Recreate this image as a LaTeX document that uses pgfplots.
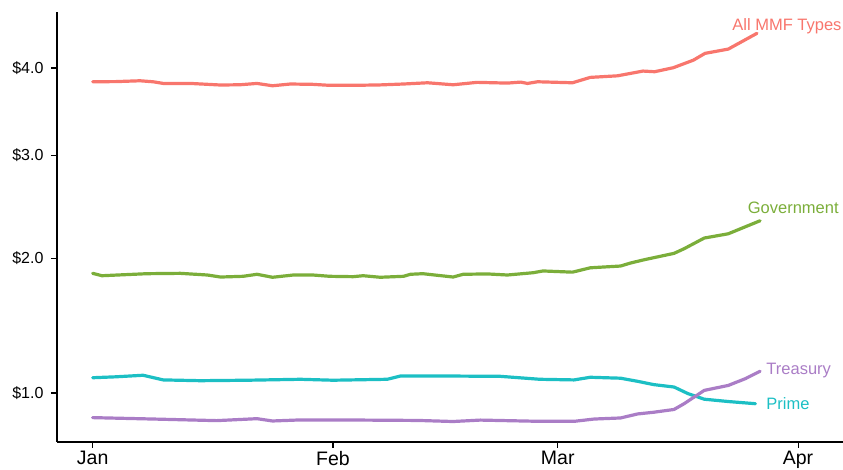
\documentclass[border=0pt]{standalone}
\usepackage{pgfplots}
\pgfplotsset{compat=1.18}
\usepackage{fontspec}
\setmainfont{Liberation Sans}
\definecolor{cAll}{HTML}{F8766D}
\definecolor{cGov}{HTML}{7BAE3A}
\definecolor{cPrime}{HTML}{1CBFC4}
\definecolor{cTreas}{HTML}{AA7DC6}
\begin{document}
\begin{tikzpicture}[x=1bp,y=1bp]
\useasboundingbox (-57,-28) rectangle (786,442);
\begin{axis}[
  at={(0,0)}, anchor=south west,
  scale only axis, width=786bp, height=430bp,
  xmin=-4.6, xmax=96.8,
  ymin=0.721, ymax=4.72,
  y coord trafo/.code={\pgfmathparse{sqrt(#1)}},
  y coord inv trafo/.code={\pgfmathparse{(#1)^2}},
  axis lines=left,
  axis line style={-, line width=1.1bp, black},
  tick align=outside,
  major tick length=6bp,
  tick style={line width=1.1bp, black},
  xtick={0,31,60,91},
  xticklabels={Jan,Feb,Mar,Apr},
  ytick={1,2,3,4},
  yticklabels={\$1.0,\$2.0,\$3.0,\$4.0},
  xticklabel style={font=\fontsize{19.5bp}{22bp}\selectfont, text=black},
  yticklabel style={font=\fontsize{16bp}{18bp}\selectfont, text=black, xshift=-4bp},
  clip=false,
  every axis plot/.append style={line width=3.2bp, line join=round, line cap=round, no markers},
]
% All MMF Types
\addplot[cAll] coordinates {
(0,3.833) (3,3.835) (6.1,3.845) (7.8,3.833) (9.1,3.813) (12.6,3.813) (16.5,3.794)
(19,3.797) (21.2,3.813) (23.2,3.785) (25.5,3.806) (28.4,3.802) (30.6,3.790)
(33.6,3.790) (37,3.795) (40.1,3.806) (43.2,3.821) (46.5,3.797) (49.6,3.826)
(53.5,3.817) (55.2,3.829) (56.1,3.813) (57.4,3.833) (61.9,3.821) (64.2,3.886)
(67.7,3.905) (71,3.963) (72.5,3.955) (74.9,4.004) (77.5,4.098) (79,4.183) (82,4.237) (85.7,4.439)
};
% Government
\addplot[cGov] coordinates {
(0,1.872) (1.2,1.852) (7,1.869) (11.3,1.872) (14.8,1.858) (16.5,1.841) (19.4,1.847)
(21.2,1.864) (23.2,1.839) (25.9,1.858) (28.4,1.858) (30.6,1.847) (33.6,1.844)
(34.9,1.852) (37.1,1.839) (40.1,1.847) (41,1.864) (42.6,1.869) (46.5,1.841)
(47.8,1.864) (50.9,1.867) (53.5,1.858) (56.8,1.877) (58.1,1.892) (61.9,1.882)
(64.2,1.919) (68.1,1.934) (69.4,1.960) (71.2,1.989) (75,2.044) (76.3,2.085)
(78.9,2.181) (82,2.220) (86.1,2.341)
};
% Prime
\addplot[cPrime] coordinates {
(0,1.096) (3,1.102) (6.5,1.112) (9.1,1.082) (13.9,1.077) (20,1.080) (26.8,1.086)
(31,1.080) (38,1.086) (39.7,1.107) (46,1.107) (52.6,1.105) (57.7,1.086)
(62.1,1.082) (64.2,1.099) (68.1,1.093) (70.3,1.073) (72.4,1.052) (75,1.037)
(76.8,0.996) (78.9,0.962) (82,0.948) (85.5,0.935)
};
% Treasury
\addplot[cTreas] coordinates {
(0,0.854) (7.8,0.846) (16,0.837) (21.2,0.848) (23.2,0.835) (26.8,0.841)
(35,0.840) (42,0.838) (46.5,0.832) (50,0.840) (57.7,0.833) (62.1,0.833)
(64.7,0.846) (68.1,0.852) (70.3,0.875) (72.4,0.885) (75,0.901) (76.3,0.935)
(78.9,1.016) (82,1.047) (84.2,1.090) (86.1,1.138)
};
\node[anchor=west, text=cAll, font=\fontsize{16.5bp}{19bp}\selectfont, inner sep=0pt] at (axis cs:82.5,4.533) {All MMF Types};
\node[anchor=west, text=cGov, font=\fontsize{16.5bp}{19bp}\selectfont, inner sep=0pt] at (axis cs:84.5,2.462) {Government};
\node[anchor=west, text=cTreas, font=\fontsize{16.5bp}{19bp}\selectfont, inner sep=0pt] at (axis cs:86.9,1.140) {Treasury};
\node[anchor=west, text=cPrime, font=\fontsize{16.5bp}{19bp}\selectfont, inner sep=0pt] at (axis cs:86.9,0.9334) {Prime};
\end{axis}
\end{tikzpicture}
\end{document}
